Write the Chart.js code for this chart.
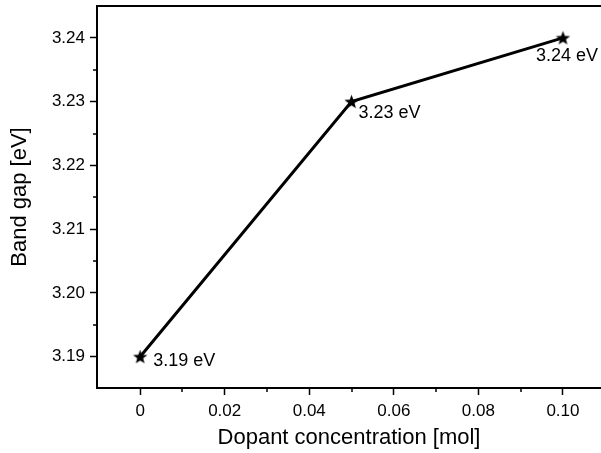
<!DOCTYPE html>
<html>
<head>
<meta charset="utf-8">
<script src="https://cdn.jsdelivr.net/npm/chart.js@4"></script>
<style>
  html, body { margin: 0; padding: 0; background: #fff; }
  #wrap { width: 601px; height: 453px; }
</style>
</head>
<body>
<div id="wrap"><canvas id="gapChart" width="601" height="453"></canvas></div>
<script>
// data
const concentrations = [0, 0.05, 0.10];
const bandGaps = [3.19, 3.23, 3.24];
const pointLabels = ['3.19 eV', '3.23 eV', '3.24 eV'];

const xTickValues = [0, 0.02, 0.04, 0.06, 0.08, 0.10];
const xMinorTicks = [0.01, 0.03, 0.05, 0.07, 0.09];
const yTickValues = [3.19, 3.20, 3.21, 3.22, 3.23, 3.24];
const yMinorTicks = [3.195, 3.205, 3.215, 3.225, 3.235];

const FONT = 'Liberation Sans, Arial, sans-serif';

// filled five point star for the markers
function makeStar(r) {
    const c = document.createElement('canvas');
    const size = Math.ceil(r * 2 + 2);
    c.width = size;
    c.height = size;
    const g = c.getContext('2d');
    const cx = size / 2, cy = size / 2 + 0.5;
    g.beginPath();
    for (let i = 0; i < 10; i++) {
        const rad = i % 2 === 0 ? r : r * 0.42;
        const a = -Math.PI / 2 + i * Math.PI / 5;
        const px = cx + rad * Math.cos(a);
        const py = cy + rad * Math.sin(a);
        if (i === 0) g.moveTo(px, py); else g.lineTo(px, py);
    }
    g.closePath();
    g.fillStyle = '#000';
    g.fill();
    return c;
}
const starImg = makeStar(7.5);

// offsets of the value labels from their points
const labelOffsets = [[13, 4], [7, 11], [-27, 18]];

const extrasPlugin = {
    id: 'extras',
    afterDraw(chart) {
        const ctx = chart.ctx;
        const area = chart.chartArea;
        const xs = chart.scales.x;
        const ys = chart.scales.y;
        ctx.save();
        ctx.strokeStyle = '#000';
        ctx.lineWidth = 2;
        // top frame line
        ctx.beginPath();
        ctx.moveTo(area.left - 1, area.top);
        ctx.lineTo(chart.width, area.top);
        ctx.stroke();
        // minor ticks
        ctx.lineWidth = 1.5;
        ctx.beginPath();
        xMinorTicks.forEach(v => {
            const px = Math.round(xs.getPixelForValue(v));
            ctx.moveTo(px, area.bottom);
            ctx.lineTo(px, area.bottom + 4);
        });
        yMinorTicks.forEach(v => {
            const py = Math.round(ys.getPixelForValue(v));
            ctx.moveTo(area.left, py);
            ctx.lineTo(area.left - 4, py);
        });
        ctx.stroke();
        // value labels
        ctx.fillStyle = '#000';
        ctx.font = '18px ' + FONT;
        ctx.textAlign = 'left';
        ctx.textBaseline = 'middle';
        const meta = chart.getDatasetMeta(0);
        meta.data.forEach((pt, i) => {
            const off = labelOffsets[i];
            ctx.fillText(pointLabels[i], pt.x + off[0], pt.y + off[1]);
        });
        ctx.restore();
    }
};

new Chart(document.getElementById('gapChart').getContext('2d'), {
    type: 'line',
    data: {
        datasets: [{
            data: concentrations.map((c, i) => ({ x: c, y: bandGaps[i] })),
            borderColor: '#000',
            borderWidth: 3,
            pointStyle: starImg,
            tension: 0,
            clip: false
        }]
    },
    options: {
        responsive: false,
        animation: false,
        layout: { autoPadding: false, padding: { top: 6, right: 0, left: 0, bottom: 0 } },
        plugins: {
            legend: { display: false },
            tooltip: { enabled: false }
        },
        scales: {
            x: {
                type: 'linear',
                min: -0.0102,
                max: 0.109,
                afterBuildTicks: scale => { scale.ticks = xTickValues.map(v => ({ value: v })); },
                afterFit: scale => {
                    scale.height = 65;
                    scale.paddingLeft = 0;
                    scale.paddingRight = 0;
                },
                grid: { drawOnChartArea: false, tickLength: 7, tickWidth: 1.5, tickColor: '#000' },
                border: { color: '#000', width: 2 },
                ticks: {
                    color: '#000',
                    font: { family: FONT, size: 17 },
                    padding: 6,
                    maxRotation: 0,
                    callback: v => v === 0 ? '0' : v.toFixed(2)
                },
                title: {
                    display: true,
                    text: 'Dopant concentration [mol]',
                    color: '#000',
                    font: { family: FONT, size: 22 },
                    padding: { top: 0, bottom: 2 }
                }
            },
            y: {
                type: 'linear',
                min: 3.1851,
                max: 3.245,
                afterBuildTicks: scale => { scale.ticks = yTickValues.map(v => ({ value: v })); },
                afterFit: scale => {
                    scale.width = 97;
                    scale.paddingTop = 0;
                    scale.paddingBottom = 0;
                },
                grid: { drawOnChartArea: false, tickLength: 7, tickWidth: 1.5, tickColor: '#000' },
                border: { color: '#000', width: 2 },
                ticks: {
                    color: '#000',
                    font: { family: FONT, size: 17 },
                    padding: 5,
                    callback: v => v.toFixed(2)
                },
                title: {
                    display: true,
                    text: 'Band gap [eV]',
                    color: '#000',
                    font: { family: FONT, size: 22 },
                    padding: { top: 7, bottom: 0 }
                }
            }
        }
    },
    plugins: [extrasPlugin]
});
</script>
</body>
</html>
